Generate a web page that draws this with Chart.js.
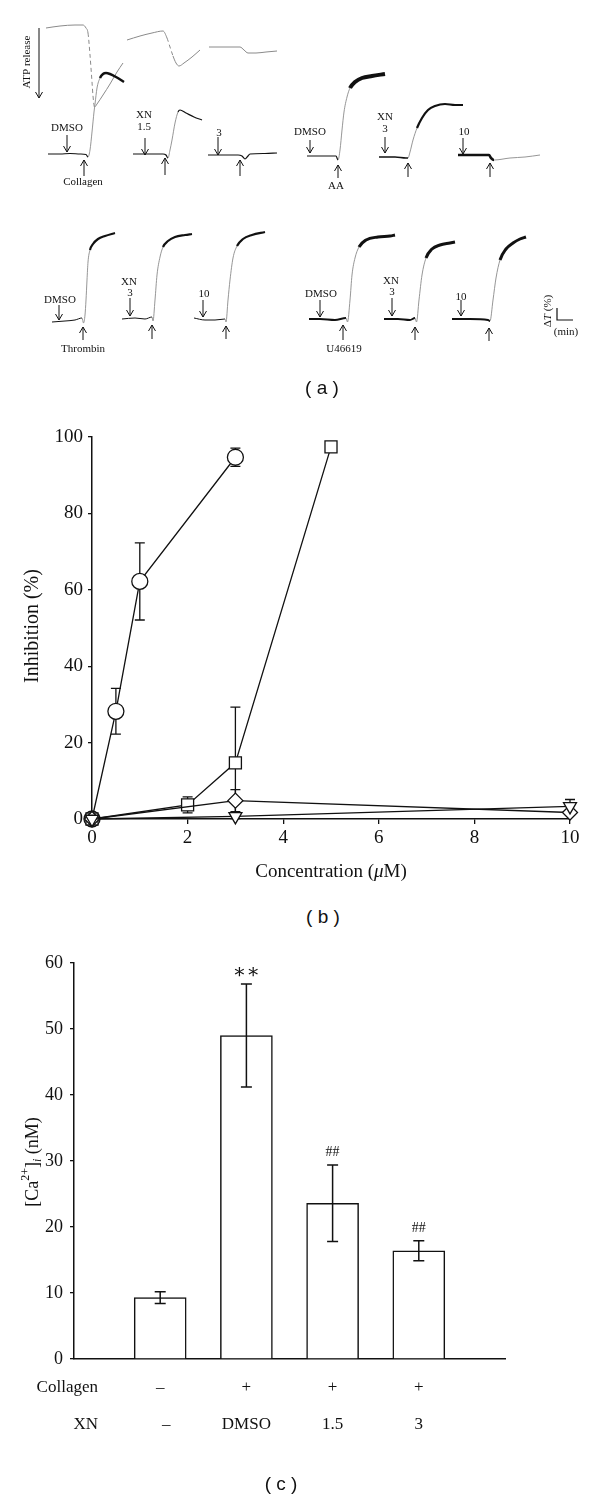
<!DOCTYPE html>
<html>
<head>
<meta charset="utf-8">
<script src="https://cdn.jsdelivr.net/npm/chart.js@4.4.1/dist/chart.umd.min.js"></script>
<style>
body { margin: 0; background: #fff; }
#wrap { position: relative; width: 600px; height: 1498px; background: #fff; }
#wrap canvas { position: absolute; left: 0; }
.plabel { position: absolute; font-family: "Liberation Sans", Arial, sans-serif; font-size: 19px; color: #111; transform: translate(-50%, -50%); white-space: pre; }
</style>
</head>
<body>
<div id="wrap">
  <canvas id="chartA" width="600" height="410" style="top:0"></canvas>
  <canvas id="chartB" width="600" height="470" style="top:420px"></canvas>
  <canvas id="chartC" width="600" height="568" style="top:930px"></canvas>
  <div class="plabel" style="left:322px;top:388px">( a )</div>
  <div class="plabel" style="left:323px;top:917px">( b )</div>
  <div class="plabel" style="left:281px;top:1484px">( c )</div>
</div>
<script>
// ---------- (a) recorder traces, [time, deflection] in panel units ----------
var aggCollagen = [
    [[48,154],[60,154],[70,153.5],[80,154],[86,154.5],[88,157],[90,150],[92,132],[94,112],[95,104],[97,88],[100,78],[103,74],[106,73],[110,74],[116,77],[124,82]],
    [[133,154],[150,154],[163,154],[166,155],[168,158],[170,150],[172,140],[175,123],[178,112],[180,110],[186,113],[194,117],[202,120]],
    [[208,155],[225,155],[238,155],[242,156],[245,159],[248,156],[250,154],[265,153.5],[277,153]]
];
var atpCollagen = [
    [[46,28],[60,26],[75,25],[83,25],[86,28],[88,33],[90,55],[92,82],[93,96],[94.5,107],[97,104],[103,95],[110,84],[117,72],[123,63]],
    [[127,40],[140,36],[152,33],[163,31],[167,38],[170,47],[173,56],[176,63],[179,66],[184,63],[192,57],[200,50]],
    [[209,47],[225,47],[240,47],[244,50],[248,53],[256,53],[266,52],[277,51]]
];
var aggAA = [
    [[307,156],[320,156],[336,156],[338,160],[340,150],[342,130],[344,112],[347,97],[350,88],[355,82],[362,78],[372,76],[385,74]],
    [[379,157],[395,157],[406,158],[408,158],[410,152],[413,140],[417,128],[422,118],[428,110],[435,106],[445,104],[455,105],[463,105]],
    [[458,155],[475,155],[489,155],[491,158],[494,160],[510,158],[525,157],[540,155]]
];
var aggThrombin = [
    [[52,322],[65,321],[75,320],[82,318],[83.5,323],[85,315],[86,300],[87,280],[88,262],[90,250],[93,244],[98,239],[105,236],[115,233]],
    [[122,319],[135,318],[145,319],[152,317],[153,321],[155,300],[157,275],[160,257],[163,247],[168,241],[175,237],[185,235],[192,234]],
    [[194,318],[205,320],[215,320],[225,319],[226,322],[228,300],[230,280],[233,258],[237,246],[243,239],[252,235],[265,232]]
];
var aggU46619 = [
    [[309,319],[320,319],[335,320],[346,318],[347.5,322],[350,300],[352,275],[355,258],[359,247],[366,240],[378,237],[390,236],[395,235]],
    [[384,319],[398,319],[410,320],[415,318],[416.5,322],[419,300],[422,275],[426,258],[432,249],[440,245],[450,243],[455,242]],
    [[452,319],[470,319],[488,320],[490,321],[493,300],[496,278],[500,260],[506,249],[513,243],[520,239],[526,237]]
];
// line weights per trace: [baseline, plateau, index where a thin tail starts]
var collagenStyle = [[1.2, 2.5], [1.2, 1.2], [1.2, 1.0]];
var aaStyle = [[1.2, 4], [1.5, 2.2], [2.6, 1, 4]];
var thrombinStyle = [[1, 2.2], [1, 2.2], [1, 2.2]];
var u46619Style = [[2, 3], [2, 3], [2, 3]];

// label texts and where they sit
var traceLabels = [
    ['DMSO',67,128],['Collagen',83,182],['XN',144,115],['1.5',144,127],['3',219,133],
    ['DMSO',310,132],['AA',336,186],['XN',385,117],['3',385,129],['10',464,132],
    ['DMSO',60,300],['Thrombin',83,349],['XN',129,282],['3',130,293],['10',204,294],
    ['DMSO',321,294],['U46619',344,349],['XN',391,281],['3',392,292],['10',461,297],
    ['(min)',566,332]
];
var downArrows = [[39,28,98],[67,135,152],[145,138,155],[218,137,155],[310,140,153],[385,137,153],[463,138,154],
    [59,305,320],[130,298,316],[203,300,317],[320,300,317],[392,298,316],[461,300,316]];
var upArrows = [[84,176,160],[165,175,158],[240,176,160],[338,178,165],[408,177,163],[490,177,163],
    [83,340,327],[152,339,325],[226,339,326],[343,340,325],[415,340,327],[489,341,328]];

// ---------- (b) inhibition vs concentration ----------
var circleConc = [0, 0.5, 1, 3];
var circleInh = [0, 28.2, 62.2, 94.7];
var circleSem = [0, 6.0, 10.1, 2.4];
var squareConc = [0, 2, 3, 5];
var squareInh = [0, 3.7, 14.7, 97.4];
var squareSem = [0, 2.1, 14.6, 0];
var diamondConc = [0, 3, 10];
var diamondInh = [0, 4.8, 1.7];
var diamondSem = [0, 2.9, 0];
var triangleConc = [0, 3, 10];
var triangleInh = [0, 0.7, 3.3];
var triangleSem = [0, 0, 1.8];
var xTicksB = [0, 2, 4, 6, 8, 10];
var yTicksB = [0, 20, 40, 60, 80, 100];

// ---------- (c) [Ca2+]i ----------
var groups = ['basal', 'DMSO', 'XN 1.5', 'XN 3'];
var caValues = [9.3, 49.0, 23.6, 16.4];
var caSem = [0.9, 7.8, 5.8, 1.5];
var sigMarks = ['', '\u2217\u2217', '##', '##'];
var collagenRow = ['\u2013', '+', '+', '+'];
var xnRow = ['\u2013', 'DMSO', '1.5', '3'];
var yTicksC = [0, 10, 20, 30, 40, 50, 60];

var SERIF = '"Liberation Serif", "Times New Roman", serif';

function toXY(xs, ys) {
    return xs.map(function (x, i) { return {x: x, y: ys[i]}; });
}
function pairs(arr) {
    return arr.map(function (p) { return {x: p[0], y: p[1]}; });
}
function steep(c) {
    var dx = Math.abs(c.p1.parsed.x - c.p0.parsed.x) || 0.01;
    var dy = Math.abs(c.p1.parsed.y - c.p0.parsed.y);
    return dy / dx > 2.5;
}

// ===== panel (a) =====
var datasetsA = [];
function addAgg(list, styles) {
    list.forEach(function (tr, i) {
        var st = styles[i], base = tr[0][1];
        function kind(c) {
            if (st[2] !== undefined && c.p0DataIndex >= st[2]) return 'thin';
            if (steep(c)) return 'thin';
            if (Math.abs(c.p0.parsed.y - base) <= 6 && Math.abs(c.p1.parsed.y - base) <= 6) return 'base';
            return 'top';
        }
        datasetsA.push({
            data: pairs(tr),
            borderColor: '#111',
            borderWidth: st[0],
            pointRadius: 0,
            cubicInterpolationMode: 'monotone',
            segment: {
                borderWidth: function (c) { var k = kind(c); return k === 'thin' ? 0.9 : (k === 'base' ? st[0] : st[1]); },
                borderColor: function (c) { return kind(c) === 'thin' ? '#8a8a8a' : '#111'; }
            }
        });
    });
}
addAgg(aggCollagen, collagenStyle);
atpCollagen.forEach(function (tr) {
    datasetsA.push({
        data: pairs(tr),
        borderColor: '#8a8a8a',
        borderWidth: 1,
        pointRadius: 0,
        cubicInterpolationMode: 'monotone',
        segment: {
            borderDash: function (c) { return steep(c) ? [4, 3] : undefined; }
        }
    });
});
addAgg(aggAA, aaStyle);
addAgg(aggThrombin, thrombinStyle);
addAgg(aggU46619, u46619Style);

var annotA = {
    id: 'annotA',
    afterDatasetsDraw: function (chart) {
        var ctx = chart.ctx, xs = chart.scales.x, ys = chart.scales.y;
        ctx.save();
        ctx.strokeStyle = '#111';
        ctx.lineWidth = 1;
        downArrows.forEach(function (a) {
            var x = xs.getPixelForValue(a[0]), y1 = ys.getPixelForValue(a[1]), y2 = ys.getPixelForValue(a[2]);
            ctx.beginPath();
            ctx.moveTo(x, y1); ctx.lineTo(x, y2);
            ctx.moveTo(x - 3.5, y2 - 6); ctx.lineTo(x, y2); ctx.lineTo(x + 3.5, y2 - 6);
            ctx.stroke();
        });
        upArrows.forEach(function (a) {
            var x = xs.getPixelForValue(a[0]), y1 = ys.getPixelForValue(a[1]), y2 = ys.getPixelForValue(a[2]);
            ctx.beginPath();
            ctx.moveTo(x, y1); ctx.lineTo(x, y2);
            ctx.moveTo(x - 3.5, y2 + 6); ctx.lineTo(x, y2); ctx.lineTo(x + 3.5, y2 + 6);
            ctx.stroke();
        });
        // scale bar
        ctx.lineWidth = 1.2;
        ctx.beginPath();
        ctx.moveTo(xs.getPixelForValue(557), ys.getPixelForValue(308));
        ctx.lineTo(xs.getPixelForValue(557), ys.getPixelForValue(320));
        ctx.lineTo(xs.getPixelForValue(573), ys.getPixelForValue(320));
        ctx.stroke();

        ctx.fillStyle = '#111';
        ctx.font = '11px ' + SERIF;
        ctx.textAlign = 'center';
        ctx.textBaseline = 'middle';
        traceLabels.forEach(function (l) {
            ctx.fillText(l[0], xs.getPixelForValue(l[1]), ys.getPixelForValue(l[2]));
        });
        // rotated labels
        ctx.save();
        ctx.translate(xs.getPixelForValue(27), ys.getPixelForValue(62));
        ctx.rotate(-Math.PI / 2);
        ctx.fillText('ATP release', 0, 0);
        ctx.restore();

        ctx.save();
        ctx.translate(xs.getPixelForValue(548), ys.getPixelForValue(311));
        ctx.rotate(-Math.PI / 2);
        ctx.textAlign = 'left';
        var w1 = ctx.measureText('\u0394').width;
        ctx.font = 'italic 11px ' + SERIF;
        var w2 = ctx.measureText('T').width;
        ctx.font = '11px ' + SERIF;
        var w3 = ctx.measureText(' (%)').width;
        var x0 = -(w1 + w2 + w3) / 2;
        ctx.fillText('\u0394', x0, 0);
        ctx.font = 'italic 11px ' + SERIF;
        ctx.fillText('T', x0 + w1, 0);
        ctx.font = '11px ' + SERIF;
        ctx.fillText(' (%)', x0 + w1 + w2, 0);
        ctx.restore();
        ctx.restore();
    }
};

new Chart(document.getElementById('chartA'), {
    type: 'line',
    data: {datasets: datasetsA},
    options: {
        responsive: false,
        animation: false,
        parsing: false,
        layout: {padding: 0},
        plugins: {legend: {display: false}, tooltip: {enabled: false}},
        scales: {
            x: {type: 'linear', display: false, min: 0, max: 600},
            y: {type: 'linear', display: false, min: 0, max: 410, reverse: true}
        }
    },
    plugins: [annotA]
});

// ===== panel (b) =====
var semSetsB = [triangleSem, diamondSem, squareSem, circleSem];

function markerSet(label, xs, ys, style, radius, rot) {
    return {
        label: label,
        data: toXY(xs, ys),
        showLine: true,
        borderColor: '#111',
        borderWidth: 1.3,
        backgroundColor: '#fff',
        pointStyle: style,
        pointRadius: radius,
        pointRotation: rot || 0,
        pointBorderWidth: 1.3,
        pointBorderColor: '#111',
        pointBackgroundColor: '#fff',
        tension: 0
    };
}

var errorBarsB = {
    id: 'errorBarsB',
    beforeDatasetsDraw: function (chart) {
        var ctx = chart.ctx, ys = chart.scales.y;
        ctx.save();
        ctx.strokeStyle = '#111';
        ctx.lineWidth = 1.3;
        chart.data.datasets.forEach(function (ds, i) {
            var meta = chart.getDatasetMeta(i);
            semSetsB[i].forEach(function (e, j) {
                if (!e) return;
                var x = meta.data[j].x, v = ds.data[j].y;
                var t = ys.getPixelForValue(v + e), b = ys.getPixelForValue(Math.max(v - e, 0));
                ctx.beginPath();
                ctx.moveTo(x, t); ctx.lineTo(x, b);
                ctx.moveTo(x - 5, t); ctx.lineTo(x + 5, t);
                ctx.moveTo(x - 5, b); ctx.lineTo(x + 5, b);
                ctx.stroke();
            });
        });
        ctx.restore();
    },
    afterDraw: function (chart) {
        var ctx = chart.ctx, a = chart.chartArea;
        ctx.save();
        ctx.fillStyle = '#111';
        ctx.textBaseline = 'middle';
        ctx.textAlign = 'left';
        // y title
        ctx.save();
        ctx.translate(33, 206);
        ctx.rotate(-Math.PI / 2);
        ctx.font = '20px ' + SERIF;
        ctx.textAlign = 'center';
        ctx.fillText('Inhibition (%)', 0, 0);
        ctx.restore();
        // x title with italic mu
        var p1 = 'Concentration (', p2 = '\u03bc', p3 = 'M)';
        ctx.font = '19px ' + SERIF;
        var w1 = ctx.measureText(p1).width, w3 = ctx.measureText(p3).width;
        ctx.font = 'italic 19px ' + SERIF;
        var w2 = ctx.measureText(p2).width;
        var x0 = (a.left + a.right) / 2 - (w1 + w2 + w3) / 2, y0 = a.bottom + 53;
        ctx.font = '19px ' + SERIF;
        ctx.fillText(p1, x0, y0);
        ctx.font = 'italic 19px ' + SERIF;
        ctx.fillText(p2, x0 + w1, y0);
        ctx.font = '19px ' + SERIF;
        ctx.fillText(p3, x0 + w1 + w2, y0);
        ctx.restore();
    }
};

new Chart(document.getElementById('chartB'), {
    type: 'scatter',
    data: {
        datasets: [
            markerSet('U46619', triangleConc, triangleInh, 'triangle', 7.5, 180),
            markerSet('Thrombin', diamondConc, diamondInh, 'rectRot', 7.5),
            markerSet('AA', squareConc, squareInh, 'rect', 8.5),
            markerSet('Collagen', circleConc, circleInh, 'circle', 8)
        ]
    },
    options: {
        responsive: false,
        animation: false,
        clip: false,
        layout: {padding: {top: 17, right: 30, left: 0, bottom: 0}},
        plugins: {legend: {display: false}, tooltip: {enabled: false}},
        scales: {
            x: {
                type: 'linear', min: 0, max: 10,
                afterFit: function (s) { s.height = 71; },
                afterBuildTicks: function (s) { s.ticks = xTicksB.map(function (v) { return {value: v}; }); },
                grid: {display: true, drawOnChartArea: false, drawTicks: true, tickLength: 5, color: '#111', lineWidth: 1.3},
                border: {display: true, color: '#111', width: 1.5},
                ticks: {color: '#111', font: {family: SERIF, size: 19}, padding: 3, maxRotation: 0}
            },
            y: {
                type: 'linear', min: 0, max: 100,
                afterFit: function (s) { s.width = 92; },
                afterBuildTicks: function (s) { s.ticks = yTicksB.map(function (v) { return {value: v}; }); },
                grid: {display: true, drawOnChartArea: false, drawTicks: true, tickLength: 4, color: '#111', lineWidth: 1.3},
                border: {display: true, color: '#111', width: 1.5},
                ticks: {color: '#111', font: {family: SERIF, size: 19}, padding: 5}
            }
        }
    },
    plugins: [errorBarsB]
});

// ===== panel (c) =====
var barsC = {
    id: 'barsC',
    afterDatasetsDraw: function (chart) {
        var ctx = chart.ctx, ys = chart.scales.y, xs = chart.scales.x;
        ctx.save();
        ctx.strokeStyle = '#111';
        ctx.lineWidth = 1.5;
        caValues.forEach(function (v, i) {
            var x = xs.getPixelForValue(i + 1);
            var t = ys.getPixelForValue(v + caSem[i]), b = ys.getPixelForValue(v - caSem[i]);
            ctx.beginPath();
            ctx.moveTo(x, t); ctx.lineTo(x, b);
            ctx.moveTo(x - 5.5, t); ctx.lineTo(x + 5.5, t);
            ctx.moveTo(x - 5.5, b); ctx.lineTo(x + 5.5, b);
            ctx.stroke();
            if (sigMarks[i]) {
                ctx.fillStyle = '#111';
                ctx.textAlign = 'center';
                ctx.textBaseline = 'middle';
                if (sigMarks[i] === '##') {
                    ctx.font = '14px ' + SERIF;
                    ctx.fillText(sigMarks[i], x, t - 13);
                } else {
                    ctx.font = '20px "DejaVu Serif", serif';
                    ctx.fillText(sigMarks[i], x, t - 11);
                }
            }
        });
        ctx.restore();
    },
    afterDraw: function (chart) {
        var ctx = chart.ctx, a = chart.chartArea, xs = chart.scales.x;
        ctx.save();
        ctx.fillStyle = '#111';
        ctx.textBaseline = 'middle';
        ctx.font = '17px ' + SERIF;
        var rowY1 = a.bottom + 29, rowY2 = a.bottom + 66;
        ctx.textAlign = 'right';
        ctx.fillText('Collagen', 98, rowY1);
        ctx.fillText('XN', 98, rowY2);
        ctx.textAlign = 'center';
        collagenRow.forEach(function (t, i) { ctx.fillText(t, xs.getPixelForValue(i + 1), rowY1); });
        xnRow.forEach(function (t, i) { ctx.fillText(t, xs.getPixelForValue(i + 1) + (i === 0 ? 6 : 0), rowY2); });

        // y title [Ca2+]i (nM)
        ctx.save();
        ctx.translate(33, 232);
        ctx.rotate(-Math.PI / 2);
        ctx.textAlign = 'left';
        var parts = [
            ['[Ca', '18px ' + SERIF, 0],
            ['2+', '12px ' + SERIF, -7],
            [']', '18px ' + SERIF, 0],
            ['i', 'italic 12px ' + SERIF, 5],
            [' (nM)', '18px ' + SERIF, 0]
        ];
        var total = 0;
        parts.forEach(function (p) { ctx.font = p[1]; p.push(ctx.measureText(p[0]).width); total += p[3]; });
        var x0 = -total / 2;
        parts.forEach(function (p) { ctx.font = p[1]; ctx.fillText(p[0], x0, p[2]); x0 += p[3]; });
        ctx.restore();
        ctx.restore();
    }
};

new Chart(document.getElementById('chartC'), {
    type: 'bar',
    data: {
        labels: [''].concat(groups, ['']),
        datasets: [{
            label: '[Ca2+]i',
            data: [null].concat(caValues, [null]),
            backgroundColor: '#fff',
            borderColor: '#111',
            borderWidth: 1.5,
            barThickness: 52
        }]
    },
    options: {
        responsive: false,
        animation: false,
        layout: {padding: {top: 33, right: 95, left: 0, bottom: 0}},
        plugins: {legend: {display: false}, tooltip: {enabled: false}},
        scales: {
            x: {
                offset: false,
                afterFit: function (s) { s.height = 139; },
                grid: {display: false},
                border: {display: true, color: '#111', width: 1.5},
                ticks: {display: false}
            },
            y: {
                min: 0, max: 60,
                afterFit: function (s) { s.width = 74; },
                afterBuildTicks: function (s) { s.ticks = yTicksC.map(function (v) { return {value: v}; }); },
                grid: {display: true, drawOnChartArea: false, drawTicks: true, tickLength: 4, color: '#111', lineWidth: 1.3},
                border: {display: true, color: '#111', width: 1.5},
                ticks: {color: '#111', font: {family: SERIF, size: 18}, padding: 7}
            }
        }
    },
    plugins: [barsC]
});
</script>
</body>
</html>
